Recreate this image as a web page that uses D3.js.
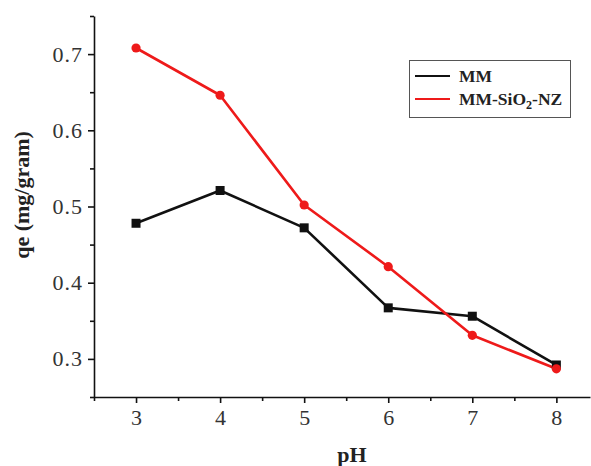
<!DOCTYPE html>
<html>
<head>
<meta charset="utf-8">
<script src="https://cdn.jsdelivr.net/npm/d3@7"></script>
<style>
  html, body { margin: 0; padding: 0; background: #fff; }
  svg { display: block; }
</style>
</head>
<body>
<svg id="chart" width="591" height="466"></svg>
<script>
// Adsorption capacity vs pH for the two adsorbents
const phValues = [3, 4, 5, 6, 7, 8];
const mmValues = [0.478, 0.521, 0.472, 0.367, 0.356, 0.292];
const mmSiValues = [0.708, 0.646, 0.502, 0.421, 0.331, 0.287];
const seriesNames = ["MM", "MM-SiO2-NZ"];
const seriesColors = ["#111111", "#ee1a1a"];
const xTicks = [3, 4, 5, 6, 7, 8];
const xMinorTicks = [2.5, 3.5, 4.5, 5.5, 6.5, 7.5];
const yTicks = [0.3, 0.4, 0.5, 0.6, 0.7];
const yMinorTicks = [0.25, 0.35, 0.45, 0.55, 0.65, 0.75];

const svg = d3.select("#chart");
const serif = "Liberation Serif";

const x = d3.scaleLinear().domain([2.5, 8.4]).range([94, 590]);
const y = d3.scaleLinear().domain([0.25, 0.75]).range([397, 16]);

function styleLabels(g, size, spacing) {
  g.attr("font-family", serif);
  g.selectAll("text")
    .attr("font-family", serif)
    .attr("font-size", size)
    .attr("letter-spacing", spacing)
    .attr("fill", "#333");
}

// x axis: major ticks with labels, minor half-unit ticks
const xAxis = svg.append("g").attr("transform", `translate(0,${y(0.25)})`)
  .call(d3.axisBottom(x).tickValues(xTicks).tickFormat(d3.format("d"))
    .tickSize(6).tickSizeOuter(0).tickPadding(6));
styleLabels(xAxis, 22, 0);
svg.append("g").attr("transform", `translate(0,${y(0.25)})`)
  .call(d3.axisBottom(x).tickValues(xMinorTicks).tickFormat("").tickSize(4).tickSizeOuter(0))
  .select(".domain").remove();

// y axis
const yAxis = svg.append("g").attr("transform", `translate(${x(2.5)},0)`)
  .call(d3.axisLeft(y).tickValues(yTicks).tickFormat(d3.format(".1f"))
    .tickSize(6).tickSizeOuter(0).tickPadding(5));
styleLabels(yAxis, 22, 1);
svg.append("g").attr("transform", `translate(${x(2.5)},0)`)
  .call(d3.axisLeft(y).tickValues(yMinorTicks).tickFormat("").tickSize(4).tickSizeOuter(0))
  .select(".domain").remove();

svg.selectAll(".domain, .tick line").attr("stroke", "#111").attr("stroke-width", 1.6);

// series lines and markers
const line = d3.line().x((d, i) => x(phValues[i])).y(d => y(d));
const seriesData = [mmValues, mmSiValues];

seriesData.forEach((vals, s) => {
  svg.append("path").datum(vals)
    .attr("d", line).attr("fill", "none")
    .attr("stroke", seriesColors[s]).attr("stroke-width", 2.6)
    .attr("stroke-linejoin", "round");
});

svg.append("g").selectAll("rect").data(mmValues).join("rect")
  .attr("x", (d, i) => x(phValues[i]) - 4.5)
  .attr("y", d => y(d) - 4.5)
  .attr("width", 9).attr("height", 9)
  .attr("fill", seriesColors[0]);

svg.append("g").selectAll("circle").data(mmSiValues).join("circle")
  .attr("cx", (d, i) => x(phValues[i]))
  .attr("cy", d => y(d))
  .attr("r", 4.6)
  .attr("fill", seriesColors[1]);

// axis titles
svg.append("text")
  .attr("transform", "translate(29,195) rotate(-90)")
  .attr("text-anchor", "middle")
  .attr("font-family", serif).attr("font-weight", "bold").attr("font-size", 22)
  .attr("fill", "#222")
  .text("qe (mg/gram)");

svg.append("text")
  .attr("x", 352).attr("y", 462)
  .attr("text-anchor", "middle")
  .attr("font-family", serif).attr("font-weight", "bold").attr("font-size", 22)
  .attr("fill", "#222")
  .text("pH");

// legend
const legend = svg.append("g");
legend.append("rect")
  .attr("x", 409.5).attr("y", 60.5).attr("width", 161).attr("height", 57)
  .attr("fill", "#fff").attr("stroke", "#555").attr("stroke-width", 1);

seriesNames.forEach((name, s) => {
  const ly = 76 + s * 23;
  legend.append("line")
    .attr("x1", 415).attr("x2", 450).attr("y1", ly).attr("y2", ly)
    .attr("stroke", seriesColors[s]).attr("stroke-width", 2);
  const t = legend.append("text")
    .attr("x", 459).attr("y", ly + 5.5)
    .attr("font-family", serif).attr("font-weight", "bold").attr("font-size", 17.5)
    .attr("fill", "#222");
  const m = name.match(/^(.*?O)(2)(.*)$/);
  if (m) {
    t.append("tspan").text(m[1]);
    t.append("tspan").attr("font-size", 12).attr("dy", 4).text(m[2]);
    t.append("tspan").attr("dy", -4).text(m[3]);
  } else {
    t.text(name);
  }
});
</script>
</body>
</html>
